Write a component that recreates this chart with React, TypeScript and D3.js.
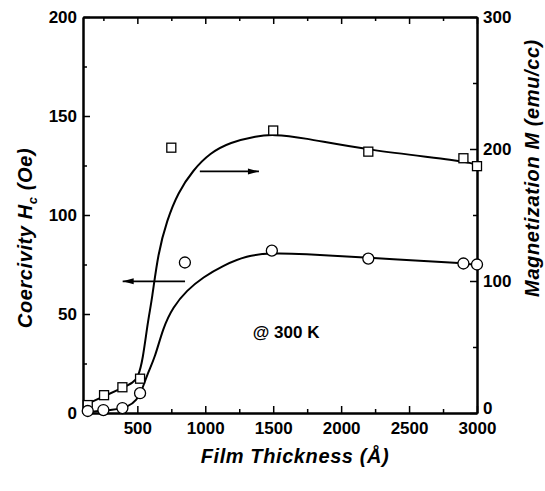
import * as d3 from "d3";
import React, { useRef, useEffect } from "react";

// measured points (thickness in Å)
const sqThick = [135, 255, 390, 520, 750, 1500, 2200, 2900, 3000];
const sqMag = [6, 13.5, 19.5, 26, 201, 214, 198, 193, 187];

const ciThick = [135, 250, 390, 520, 850, 1490, 2200, 2900, 3000];
const ciHc = [1, 1.5, 2.5, 10, 76, 82, 78, 75.5, 75];

// fitted guide curves
const magFitX = [135, 260, 390, 470, 505, 540, 578, 608, 652, 718, 799, 910, 1035, 1182, 1381, 1500, 1700, 2200, 2900, 3000];
const magFitY = [7, 13, 19, 23, 27, 40, 70, 86, 121, 146, 167, 184, 197, 205, 210, 211, 209, 199, 191, 188];

const hcFitX = [135, 330, 430, 497, 534, 575, 630, 689, 762, 865, 983, 1130, 1307, 1476, 1700, 2205, 2900, 3000];
const hcFitY = [0.5, 1.5, 3, 6.5, 11.5, 20, 28, 43, 53.5, 62, 68.5, 74.5, 79.5, 80.8, 80.5, 78.3, 75.8, 74.7];

const xTicks = [500, 1000, 1500, 2000, 2500, 3000];
const xMinor = [250, 750, 1250, 1750, 2250, 2750];
const hcTicks = [0, 50, 100, 150, 200];
const hcMinor = [25, 75, 125, 175];
const mTicks = [0, 100, 200, 300];
const mMinor = [50, 150, 250];

// annotations (data space)
const leftArrow = { from: [851, 66.5], to: [392, 66.5] }; // Hc axis
const rightArrow = { from: [960, 183], to: [1395, 183] }; // M axis
const tempLabel = { x: 1595, y: 41, text: "@ 300 K" };

const W = 545;
const H = 491;
const m = { left: 83, right: 68, top: 17, bottom: 78 };

const App = () => {
  const ref = useRef(null);

  useEffect(() => {
    const svg = d3.select(ref.current);
    svg.selectAll("*").remove();

    const x = d3.scaleLinear().domain([100, 3000]).range([m.left, W - m.right]);
    const yL = d3.scaleLinear().domain([0, 200]).range([H - m.bottom, m.top]);
    const yR = d3.scaleLinear().domain([0, 300]).range([H - m.bottom, m.top]);

    const font = "'Liberation Sans', Arial, sans-serif";
    const bottomY = H - m.bottom;

    const styleAxis = (g) => {
      g.selectAll("path").attr("stroke", "#000").attr("stroke-width", 2);
      g.selectAll("line").attr("stroke", "#000").attr("stroke-width", 1.5);
      g.selectAll("text")
        .attr("font-family", font)
        .attr("font-weight", "bold")
        .attr("font-size", 17)
        .attr("fill", "#000");
    };

    // bottom
    svg.append("g").attr("transform", `translate(0,${bottomY})`)
      .call(d3.axisBottom(x).tickValues(xTicks).tickSizeInner(-7).tickSizeOuter(0).tickPadding(9).tickFormat(d3.format("d")))
      .call(styleAxis);
    svg.append("g").attr("transform", `translate(0,${bottomY})`)
      .call(d3.axisBottom(x).tickValues(xMinor).tickSizeInner(-4).tickSizeOuter(0).tickFormat(() => ""))
      .call(styleAxis);
    // top
    svg.append("g").attr("transform", `translate(0,${m.top})`)
      .call(d3.axisTop(x).tickValues(xTicks).tickSizeInner(-7).tickSizeOuter(0).tickFormat(() => ""))
      .call(styleAxis);
    svg.append("g").attr("transform", `translate(0,${m.top})`)
      .call(d3.axisTop(x).tickValues(xMinor).tickSizeInner(-4).tickSizeOuter(0).tickFormat(() => ""))
      .call(styleAxis);
    // left
    svg.append("g").attr("transform", `translate(${m.left},0)`)
      .call(d3.axisLeft(yL).tickValues(hcTicks).tickSizeInner(-7).tickSizeOuter(0).tickPadding(6))
      .call(styleAxis);
    svg.append("g").attr("transform", `translate(${m.left},0)`)
      .call(d3.axisLeft(yL).tickValues(hcMinor).tickSizeInner(-4).tickSizeOuter(0).tickFormat(() => ""))
      .call(styleAxis);
    // right
    const rAxis = svg.append("g").attr("transform", `translate(${W - m.right},0)`)
      .call(d3.axisRight(yR).tickValues(mTicks).tickSizeInner(-7).tickSizeOuter(0).tickPadding(6))
      .call(styleAxis);
    // the "0" label sits just above the "3000" tick label
    rAxis.selectAll(".tick text").filter((d) => d === 0).attr("dy", "0.05em");
    svg.append("g").attr("transform", `translate(${W - m.right},0)`)
      .call(d3.axisRight(yR).tickValues(mMinor).tickSizeInner(-4).tickSizeOuter(0).tickFormat(() => ""))
      .call(styleAxis);

    // fitted curves
    const magLine = d3.line().x((d) => x(d[0])).y((d) => yR(d[1])).curve(d3.curveBasis);
    const hcLine = d3.line().x((d) => x(d[0])).y((d) => yL(d[1])).curve(d3.curveBasis);

    svg.append("path")
      .attr("d", magLine(magFitX.map((v, i) => [v, magFitY[i]])))
      .attr("fill", "none").attr("stroke", "#000").attr("stroke-width", 2);
    svg.append("path")
      .attr("d", hcLine(hcFitX.map((v, i) => [v, hcFitY[i]])))
      .attr("fill", "none").attr("stroke", "#000").attr("stroke-width", 2);

    // markers
    const sq = 9;
    svg.append("g").selectAll("rect")
      .data(sqThick.map((v, i) => [v, sqMag[i]]))
      .enter().append("rect")
      .attr("x", (d) => x(d[0]) - sq / 2)
      .attr("y", (d) => yR(d[1]) - sq / 2)
      .attr("width", sq).attr("height", sq)
      .attr("fill", "#fff").attr("stroke", "#000").attr("stroke-width", 1.3);

    svg.append("g").selectAll("circle")
      .data(ciThick.map((v, i) => [v, ciHc[i]]))
      .enter().append("circle")
      .attr("cx", (d) => x(d[0]))
      .attr("cy", (d) => yL(d[1]))
      .attr("r", 5.5)
      .attr("fill", "#fff").attr("stroke", "#000").attr("stroke-width", 1.3);

    // arrows
    const arrow = (x1, y1, x2, y2) => {
      svg.append("line")
        .attr("x1", x1).attr("y1", y1).attr("x2", x2).attr("y2", y2)
        .attr("stroke", "#000").attr("stroke-width", 1.8);
      const dir = Math.sign(x2 - x1);
      svg.append("path")
        .attr("d", `M${x2},${y2} L${x2 - dir * 11},${y2 - 3} L${x2 - dir * 11},${y2 + 3} Z`)
        .attr("fill", "#000");
    };
    arrow(x(leftArrow.from[0]), yL(leftArrow.from[1]), x(leftArrow.to[0]), yL(leftArrow.to[1]));
    arrow(x(rightArrow.from[0]), yR(rightArrow.from[1]), x(rightArrow.to[0]), yR(rightArrow.to[1]));

    svg.append("text")
      .attr("x", x(tempLabel.x)).attr("y", yL(tempLabel.y))
      .attr("text-anchor", "middle").attr("dy", "0.35em")
      .attr("font-family", font).attr("font-weight", "bold").attr("font-size", 17)
      .text(tempLabel.text);

    // axis titles
    const title = (sel) => sel
      .attr("font-family", font).attr("font-weight", "bold").attr("font-style", "italic")
      .attr("font-size", 20).attr("letter-spacing", 0.6)
      .attr("text-anchor", "middle").attr("fill", "#000");

    svg.append("text").attr("x", 295).attr("y", 463).call(title).text("Film Thickness (Å)");

    const lt = svg.append("text").attr("transform", "translate(32,238) rotate(-90)").call(title);
    lt.append("tspan").text("Coercivity H");
    lt.append("tspan").attr("dy", 5).attr("font-size", 13).text("c");
    lt.append("tspan").attr("dy", -5).text(" (Oe)");

    svg.append("text").attr("transform", "translate(539,168) rotate(-90)").call(title)
      .text("Magnetization M (emu/cc)");
  }, []);

  return (
    <svg
      ref={ref}
      width={W}
      height={H}
      style={{ position: "absolute", left: 0, top: 0, background: "#fff" }}
    />
  );
};

export default App;
